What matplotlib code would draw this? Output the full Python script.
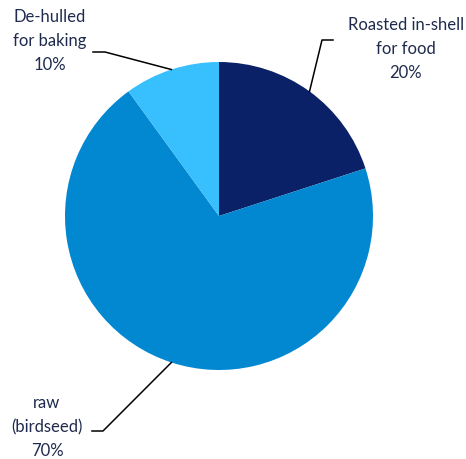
import numpy as np
import matplotlib.pyplot as plt

labels = ["Roasted in-shell\nfor food", "raw\n(birdseed)", "De-hulled\nfor baking"]
shares = [20, 70, 10]
colors = ["#0A2167", "#0288D1", "#38BFFD"]
text_color = "#1F2B4E"

# label placement in pixel space (x, y from bottom) and elbow end of leader line
label_pos = [(406, 410), (47, 32), (50, 418)]
elbow = [(322, 419), (103, 28), (105, 407)]
elbow_end = [(333, 419), (92, 28), (93, 407)]

fig = plt.figure(figsize=(4.66, 4.59), dpi=100)
ax = fig.add_axes([0, 0, 1, 1])

center = (219, 243)
radius = 154
wedges, _ = ax.pie(shares, colors=colors, startangle=90, counterclock=False,
                   center=center, radius=radius, frame=True)
ax.set_xlim(0, 466)
ax.set_ylim(0, 459)
ax.set_aspect("equal")
ax.axis("off")

for w, lab, s, lp, el, ee in zip(wedges, labels, shares, label_pos, elbow, elbow_end):
    mid = np.deg2rad((w.theta1 + w.theta2) / 2)
    px = center[0] + radius * np.cos(mid)
    py = center[1] + radius * np.sin(mid)
    ax.plot([px, el[0], ee[0]], [py, el[1], ee[1]], color="black", lw=1.1)
    ax.text(lp[0], lp[1], f"{lab}\n{s}%", ha="center", va="center",
            fontsize=12, family="Lato", color=text_color, linespacing=1.6)

fig.savefig("out.png", dpi=100)
